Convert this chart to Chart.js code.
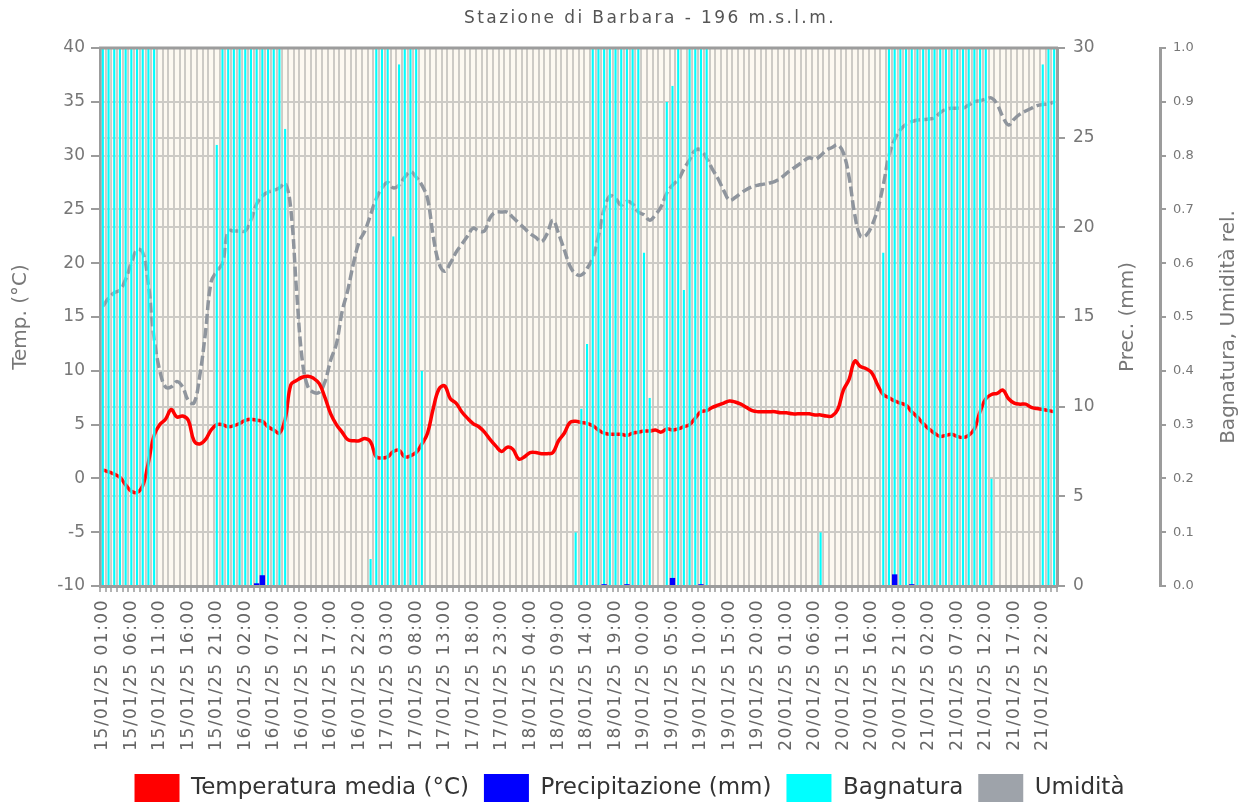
<!DOCTYPE html>
<html>
<head>
<meta charset="utf-8">
<script src="https://cdn.jsdelivr.net/npm/chart.js@4.4.1/dist/chart.umd.min.js"></script>
<style>
  html, body { margin: 0; padding: 0; background: #fff; }
</style>
</head>
<body>
<canvas id="meteoChart" width="1241" height="802"></canvas>
<script>
// hourly categories: 15/01/25 01:00 -> 22/01/25 00:00
const hours = [];
for (let i = 0; i < 168; i++) {
    const d = 15 + Math.floor((i + 1) / 24);
    const h = (i + 1) % 24;
    hours.push(String(d).padStart(2, '0') + '/01/25 ' + String(h).padStart(2, '0') + ':00');
}

// Temperatura media (°C)
const tempMedia = [
    0.8, 0.6, 0.4, 0.1, -0.6, -1.2, -1.3, -0.7, 1.5, 4.0, 5.0, 5.5, 6.4, 5.7, 5.8, 5.4, 3.5, 3.2, 3.6, 4.5, 5.0, 5.0, 4.8, 4.9,
    5.1, 5.4, 5.5, 5.4, 5.3, 4.8, 4.5, 4.2, 5.5, 8.7, 9.1, 9.4, 9.5, 9.3, 8.8, 7.5, 6.0, 5.0, 4.3, 3.6, 3.5, 3.5, 3.7, 3.4,
    2.0, 1.9, 2.0, 2.5, 2.6, 2.0, 2.1, 2.4, 3.2, 4.2, 6.5, 8.3, 8.6, 7.4, 7.0, 6.2, 5.6, 5.1, 4.8, 4.3, 3.6, 3.0, 2.5, 2.9,
    2.7, 1.8, 2.0, 2.4, 2.4, 2.3, 2.3, 2.4, 3.5, 4.2, 5.2, 5.3, 5.2, 5.1, 4.9, 4.5, 4.2, 4.1, 4.1, 4.1, 4.0, 4.2, 4.3, 4.4,
    4.4, 4.5, 4.3, 4.6, 4.5, 4.6, 4.8, 5.0, 5.6, 6.2, 6.3, 6.6, 6.8, 7.0, 7.2, 7.1, 6.9, 6.6, 6.3, 6.2, 6.2, 6.2, 6.2, 6.1,
    6.1, 6.0, 6.0, 6.0, 6.0, 5.9, 5.9, 5.8, 5.8, 6.4, 8.2, 9.2, 10.9, 10.4, 10.2, 9.8, 8.7, 7.8, 7.5, 7.2, 7.0, 6.8, 6.2, 5.7,
    5.1, 4.6, 4.2, 3.9, 4.0, 4.1, 3.9, 3.8, 4.0, 4.6, 6.2, 7.4, 7.8, 7.9, 8.2, 7.4, 7.0, 6.9, 6.9, 6.6, 6.5, 6.4, 6.3, 6.2
];

// Precipitazione (mm)
const precipitazione = [
    0, 0, 0, 0, 0, 0, 0, 0, 0, 0, 0, 0, 0, 0, 0, 0, 0, 0, 0, 0, 0, 0, 0, 0,
    0, 0, 0, 0.15, 0.6, 0, 0, 0, 0, 0, 0, 0, 0, 0, 0, 0, 0, 0, 0, 0, 0, 0, 0, 0,
    0, 0, 0, 0, 0, 0, 0, 0, 0, 0, 0, 0, 0, 0, 0, 0, 0, 0, 0, 0, 0, 0, 0, 0,
    0, 0, 0, 0, 0, 0, 0, 0, 0, 0, 0, 0, 0, 0, 0, 0, 0.1, 0, 0, 0, 0.1, 0, 0, 0,
    0, 0, 0, 0, 0.45, 0, 0, 0, 0, 0.1, 0, 0, 0, 0, 0, 0, 0, 0, 0, 0, 0, 0, 0, 0,
    0, 0, 0, 0, 0, 0, 0, 0, 0, 0, 0, 0, 0, 0, 0, 0, 0, 0, 0, 0.65, 0, 0, 0.1, 0,
    0, 0, 0, 0, 0, 0, 0, 0, 0, 0, 0, 0, 0, 0, 0, 0, 0, 0, 0, 0, 0, 0, 0, 0
];

// Bagnatura (0..1)
const bagnatura = [
    1, 1, 1, 1, 1, 1, 1, 1, 1, 1, 0, 0, 0, 0, 0, 0, 0, 0, 0, 0, 0.82, 1, 1, 1,
    1, 1, 1, 1, 1, 1, 1, 1, 0.85, 0, 0, 0, 0, 0, 0, 0, 0, 0, 0, 0, 0, 0, 0, 0.05,
    1, 1, 1, 0.65, 0.97, 1, 1, 1, 0.4, 0, 0, 0, 0, 0, 0, 0, 0, 0, 0, 0, 0, 0, 0, 0,
    0, 0, 0, 0, 0, 0, 0, 0, 0, 0, 0, 0.1, 0.33, 0.45, 1, 1, 1, 1, 1, 1, 1, 1, 1, 0.62,
    0.35, 0, 0, 0.9, 0.93, 1, 0.55, 1, 1, 1, 1, 0, 0, 0, 0, 0, 0, 0, 0, 0, 0, 0, 0, 0,
    0, 0, 0, 0, 0, 0, 0.1, 0, 0, 0, 0, 0, 0, 0, 0, 0, 0, 0.62, 1, 1, 1, 1, 1, 1,
    1, 1, 1, 1, 1, 1, 1, 1, 1, 1, 1, 1, 0.2, 0, 0, 0, 0, 0, 0, 0, 0, 0.97, 1, 1
];

// Umidità relativa (0..1)
const umidita = [
    .52, .535, .545, .55, .57, .60, .625, .62, .56, .46, .40, .37, .37, .38, .37, .345, .34, .39, .47, .565, .585, .60, .66, .66,
    .66, .66, .68, .71, .725, .732, .735, .74, .749, .70, .55, .42, .37, .36, .36, .38, .42, .45, .51, .55, .60, .64, .66, .69,
    .72, .74, .75, .74, .745, .76, .77, .76, .745, .72, .65, .60, .585, .60, .62, .635, .65, .665, .66, .66, .685, .695, .695, .695,
    .685, .675, .665, .655, .648, .64, .655, .68, .655, .625, .595, .58, .578, .59, .61, .65, .70, .725, .72, .708, .715, .71, .695, .69,
    .68, .69, .705, .73, .745, .755, .775, .792, .81, .81, .795, .775, .757, .735, .717, .722, .73, .737, .742, .745, .747, .749, .752, .758,
    .767, .775, .782, .79, .796, .793, .80, .81, .815, .82, .805, .76, .69, .65, .652, .67, .70, .745, .80, .83, .848, .858, .863, .866,
    .867, .868, .87, .88, .886, .888, .888, .888, .894, .90, .902, .905, .907, .895, .872, .857, .868, .877, .883, .888, .893, .895, .896, .90
];

const FONT = 'DejaVu Sans';
const GRID = '#cdcbc6';
const AXIS = '#9c9c9c';

// cream plot background, frame line, title and right-hand axis titles
const plotFrame = {
    id: 'plotFrame',
    afterLayout(chart) {
        // legend sits a little right of the canvas centre in the original
        chart.legend.left += 18;
    },
    beforeDraw(chart) {
        const { ctx, chartArea: a } = chart;
        ctx.save();
        ctx.fillStyle = '#fdf9f1';
        ctx.fillRect(a.left, a.top, a.right - a.left, a.bottom - a.top);
        ctx.restore();

        // wider spacing for the rotated date labels
        const sx = chart.scales.x;
        if (!sx._spaced) {
            const orig = sx.drawLabels;
            sx.drawLabels = function (area) {
                this.ctx.save();
                this.ctx.letterSpacing = '1.5px';
                orig.call(this, area);
                this.ctx.restore();
            };
            sx._spaced = true;
        }
    },
    afterDraw(chart) {
        const { ctx, chartArea: a } = chart;
        ctx.save();
        ctx.strokeStyle = AXIS;
        ctx.lineWidth = 3;
        ctx.beginPath();
        ctx.moveTo(a.left - 1, a.top);
        ctx.lineTo(a.right + 1, a.top);
        ctx.stroke();

        ctx.textAlign = 'center';
        ctx.textBaseline = 'middle';

        ctx.save();
        ctx.fillStyle = '#555';
        ctx.font = '17px "' + FONT + '"';
        ctx.letterSpacing = '2.4px';
        ctx.fillText('Stazione di Barbara - 196 m.s.l.m.', 650, 19);
        ctx.restore();

        ctx.fillStyle = '#777';
        ctx.font = '20px "' + FONT + '"';
        const titles = [
            [chart.scales.y1, 'Prec. (mm)', 32, 0],
            [chart.scales.y2, 'Bagnatura, Umidità rel.', 12, 10]
        ];
        titles.forEach(([s, txt, off, dy]) => {
            ctx.save();
            ctx.translate(s.right - off, (a.top + a.bottom) / 2 + dy);
            ctx.rotate(-Math.PI / 2);
            ctx.fillText(txt, 0, 0);
            ctx.restore();
        });
        ctx.restore();
    }
};

const ctx = document.getElementById('meteoChart').getContext('2d');

new Chart(ctx, {
    type: 'bar',
    data: {
        labels: hours,
        datasets: [
            {
                type: 'line',
                label: 'Temperatura media (°C)',
                data: tempMedia,
                yAxisID: 'y',
                borderColor: '#ff0000',
                backgroundColor: '#ff0000',
                borderWidth: 3.5,
                pointRadius: 0,
                tension: 0.4,
                order: 2
            },
            {
                label: 'Precipitazione (mm)',
                data: precipitazione,
                yAxisID: 'y1',
                backgroundColor: '#0000ff',
                barPercentage: 0.95,
                categoryPercentage: 1,
                grouped: false,
                order: 0
            },
            {
                label: 'Bagnatura',
                data: bagnatura,
                yAxisID: 'y2',
                backgroundColor: '#00ffff',
                borderColor: 'rgba(255,255,255,0.35)',
                borderWidth: { left: 1, right: 1, top: 0, bottom: 0 },
                barPercentage: 0.72,
                categoryPercentage: 1,
                grouped: false,
                order: 1
            },
            {
                type: 'line',
                label: 'Umidità',
                data: umidita,
                yAxisID: 'y2',
                borderColor: '#8f959d',
                backgroundColor: '#9ea3aa',
                borderWidth: 3.5,
                borderDash: [10, 4],
                pointRadius: 0,
                tension: 0.4,
                order: 3
            }
        ]
    },
    options: {
        responsive: false,
        animation: false,
        layout: { padding: { top: 48 } },
        plugins: {
            title: { display: false },
            legend: {
                position: 'bottom',
                maxHeight: 43,
                labels: {
                    color: '#333',
                    font: { family: FONT, size: 23 },
                    boxWidth: 45,
                    boxHeight: 28,
                    padding: 15,
                    generateLabels(chart) {
                        const items = Chart.defaults.plugins.legend.labels.generateLabels(chart);
                        items.forEach(it => { it.lineWidth = 0; it.strokeStyle = 'rgba(0,0,0,0)'; it.lineDash = []; });
                        return items.sort((a, b) => a.datasetIndex - b.datasetIndex);
                    }
                }
            },
            tooltip: { enabled: false }
        },
        scales: {
            x: {
                offset: true,
                grid: { offset: true, color: GRID, lineWidth: 2, tickLength: 6, tickColor: '#b3b3b3' },
                border: { color: AXIS, width: 3 },
                ticks: {
                    autoSkip: false,
                    maxRotation: 90,
                    minRotation: 90,
                    padding: 7,
                    color: '#666',
                    font: { family: FONT, size: 17 },
                    callback(value, index) {
                        return index % 5 === 0 ? this.getLabelForValue(value) : '';
                    }
                },
                afterFit(scale) { scale.height = 173; }
            },
            y: {
                position: 'left',
                min: -10,
                max: 40,
                ticks: { stepSize: 5, color: '#777', padding: 6, font: { family: FONT, size: 17 } },
                grid: { color: GRID, lineWidth: 2, tickLength: 9, tickColor: AXIS },
                border: { color: AXIS, width: 3 },
                title: { display: true, text: 'Temp. (°C)', color: '#777', font: { family: FONT, size: 20 }, padding: { top: 9 } },
                afterFit(scale) { scale.width = 100; }
            },
            y1: {
                position: 'right',
                min: 0,
                max: 30,
                ticks: { stepSize: 5, color: '#777', padding: 8, font: { family: FONT, size: 17 } },
                grid: { color: GRID, lineWidth: 2, tickLength: 8, tickColor: AXIS },
                border: { color: AXIS, width: 3 },
                afterFit(scale) { scale.width = 103; }
            },
            y2: {
                position: 'right',
                min: 0,
                max: 1,
                ticks: {
                    stepSize: 0.1, color: '#777', padding: 7, font: { family: FONT, size: 13 },
                    callback: v => v.toFixed(1)
                },
                grid: { drawOnChartArea: false, tickLength: 6, tickColor: AXIS, lineWidth: 2 },
                border: { color: AXIS, width: 3 },
                afterFit(scale) { scale.width = 81; }
            }
        }
    },
    plugins: [plotFrame]
});
</script>
</body>
</html>
